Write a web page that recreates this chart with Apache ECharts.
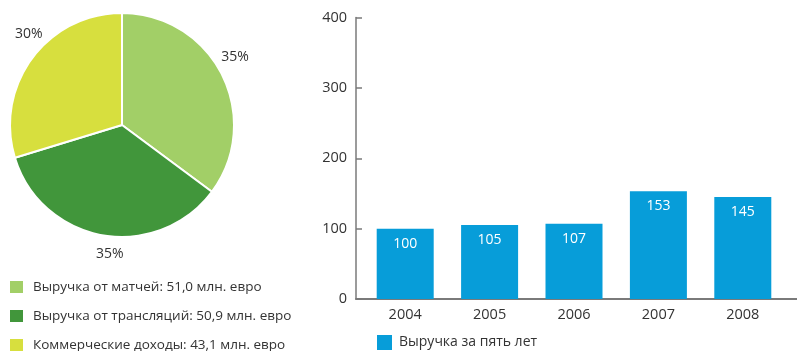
<!DOCTYPE html>
<html><head><meta charset="utf-8">
<script src="https://cdn.jsdelivr.net/npm/echarts@6/dist/echarts.min.js"></script>
<style>html,body{margin:0;padding:0;background:#fff}#c{width:797px;height:351px}</style>
</head><body><div id="c"></div>
<script>
// Revenue structure (млн. евро)
const revenueSources = ['Выручка от матчей', 'Выручка от трансляций', 'Коммерческие доходы'];
const revenueValues = [51.0, 50.9, 43.1];
const sourceColors = ['#a2cf67', '#41963b', '#d7df3e'];

// Revenue by year
const years = ['2004', '2005', '2006', '2007', '2008'];
const yearRevenue = [100, 105, 107, 153, 145];
const barSeriesName = 'Выручка за пять лет';
const barColor = '#079dd9';

const FONT = 'Open Sans';
const TEXT = '#333';

// nudges for the percentage labels around the pie
const pieLabelShift = [[-13, -14], [27, 11], [22, -20]];

const fmt = v => v.toFixed(1).replace('.', ',');
const pieNames = revenueSources.map((s, i) => s + ': ' + fmt(revenueValues[i]) + ' млн. евро');
const pieData = pieNames.map((n, i) => ({ name: n, value: revenueValues[i], itemStyle: { color: sourceColors[i] } }));

const legendText = { color: TEXT, fontSize: 13.5, fontFamily: FONT, lineHeight: 14, padding: [0, 0, 0, 4] };
// one legend row per revenue source, stacked under the pie
const pieLegends = pieNames.map((n, i) => ({
  data: [n], left: 8, top: 279 + i * 29, padding: 0,
  itemWidth: 15, itemHeight: 14, icon: 'rect', textStyle: legendText
}));

const chart = echarts.init(document.getElementById('c'), null, { renderer: 'canvas' });
chart.setOption({
  animation: false,
  textStyle: { fontFamily: FONT },
  grid: [
    { left: 356, right: 0, top: 17.5, bottom: 52 },
    { left: 363, right: 12, top: 17.5, bottom: 52 }
  ],
  xAxis: [
    { gridIndex: 0, type: 'value', min: 0, max: 1,
      axisLine: { show: true, onZero: false, lineStyle: { color: '#7a7a7a', width: 2 } },
      axisTick: { show: false }, axisLabel: { show: false }, splitLine: { show: false } },
    { gridIndex: 1, type: 'category', data: years,
      axisLine: { show: false }, axisTick: { show: false },
      axisLabel: { color: TEXT, fontSize: 14.5, fontFamily: FONT, margin: 8 } }
  ],
  yAxis: [
    { gridIndex: 0, type: 'value', min: 0, max: 400, interval: 100,
      axisLine: { show: true, lineStyle: { color: '#7a7a7a', width: 1.5 } },
      axisTick: { show: true, inside: true, length: 6, lineStyle: { color: '#7a7a7a', width: 1.5 } },
      axisLabel: { color: TEXT, fontSize: 14.5, fontFamily: FONT, margin: 9 },
      splitLine: { show: false } },
    { gridIndex: 1, type: 'value', min: 0, max: 400, interval: 100, show: false }
  ],
  legend: pieLegends.concat([
    { data: [barSeriesName], left: 377, top: 335, padding: 0,
      itemWidth: 15, itemHeight: 15, icon: 'rect',
      textStyle: { color: TEXT, fontSize: 14, fontFamily: FONT, lineHeight: 15, padding: [0, 0, 0, 2] } }
  ]),
  series: [
    { type: 'pie', center: [122, 125], radius: 112, startAngle: 90, clockwise: true,
      data: pieData,
      itemStyle: { borderColor: '#fff', borderWidth: 2 },
      label: { show: true, position: 'outside', overflow: 'none', formatter: p => Math.round(p.percent) + '%',
               color: TEXT, fontSize: 14, fontFamily: FONT },
      labelLine: { show: false, length: 8, length2: 0 },
      labelLayout: p => ({ dx: pieLabelShift[p.dataIndex][0], dy: pieLabelShift[p.dataIndex][1] }),
      emphasis: { disabled: true } },
    { type: 'bar', name: barSeriesName, xAxisIndex: 1, yAxisIndex: 1,
      data: yearRevenue, barWidth: 57, itemStyle: { color: barColor },
      label: { show: true, position: 'insideTop', distance: 8, color: '#fff', fontSize: 14, fontFamily: FONT } }
  ]
});
</script></body></html>
